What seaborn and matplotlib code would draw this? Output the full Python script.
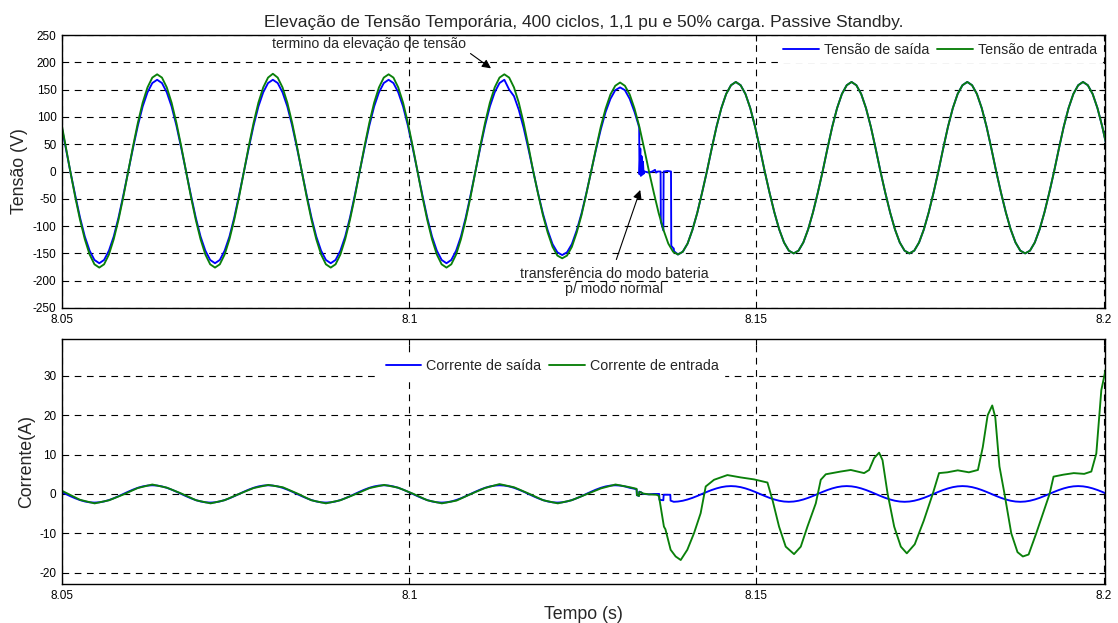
import numpy as np
import pandas as pd
import matplotlib
matplotlib.use("Agg")
import matplotlib.pyplot as plt
import seaborn as sns

# grade de amostragem (15 graus a 60 Hz), pico P1 em 8.0637 s
t_grid = 8.0637 + (np.arange(218) - 20) / 1440

# Tensao de entrada (V), n = 0..217
v_entrada = [
    96, 48, 0, -46, -88, -124, -152, -170, -176, -170, -152, -124, -88, -46, 0, 46, 89, 126, 154, 172,
    178, 172, 154, 126, 89, 46, 0, -46, -88, -124, -152, -170, -176, -170, -152, -124, -88, -46, 0, 46, 89, 126, 154, 172,
    179, 172, 154, 126, 89, 46, 0, -46, -88, -124, -152, -170, -176, -170, -152, -124, -88, -46, 0, 46, 89, 126, 154, 172,
    178, 172, 154, 126, 89, 46, 0, -46, -88, -124, -152, -170, -176, -170, -152, -124, -88, -46, 0, 46, 89, 126, 154, 172,
    178, 172, 154, 126, 89, 46, 0, -41, -80, -112, -138, -154, -159, -154, -138, -112, -80, -41, 0, 42, 82, 115, 141, 157,
    163, 157, 141, 115, 82, 42, 0, -39, -76, -107, -132, -147, -152, -147, -132, -107, -76, -39, 0, 42, 82, 116, 142, 158,
    164, 158, 142, 116, 82, 42, 0, -39, -75, -106, -130, -145, -150, -145, -130, -106, -75, -39, 0, 42, 82, 116, 142, 158,
    164, 158, 142, 116, 82, 42, 0, -39, -75, -106, -130, -145, -150, -145, -130, -106, -75, -39, 0, 42, 82, 116, 142, 158,
    164, 158, 142, 116, 82, 42, 0, -39, -75, -106, -130, -145, -150, -145, -130, -106, -75, -39, 0, 42, 82, 116, 142, 158,
    164, 158, 142, 116, 82, 42,
]

# Tensao de saida (V), n = 0..119 (antes da transferencia)
v_saida_a = [
    91, 45, 0, -43, -84, -119, -145, -162, -168, -162, -145, -119, -84, -43, 0, 43, 84, 119, 145, 162,
    168, 162, 145, 119, 84, 43, 0, -43, -84, -119, -145, -162, -168, -162, -145, -119, -84, -43, 0, 43, 84, 119, 145, 162,
    168, 162, 145, 119, 84, 43, 0, -43, -84, -119, -145, -162, -168, -162, -145, -119, -84, -43, 0, 43, 84, 119, 145, 162,
    168, 162, 145, 119, 84, 43, 0, -43, -84, -119, -145, -162, -168, -162, -145, -119, -84, -43, 0, 43, 84, 119, 145, 162,
    168, 150, 138, 113, 80, 41, 0, -40, -77, -108, -133, -148, -153, -148, -133, -108, -77, -40, 0, 40, 77, 109, 133, 149,
    154, 149, 133, 109,
]
# transferencia modo bateria -> modo normal
vs_glitch_t = [8.1330, 8.13312, 8.13316, 8.13328, 8.13336, 8.13346, 8.13356, 8.13366, 8.13376, 8.13388,
               8.1345, 8.1350, 8.1354, 8.13555, 8.1358, 8.1362, 8.13624, 8.1366, 8.13664, 8.1372,
               8.1377, 8.13774, 8.1380, 8.1381, 8.13814, 8.1385]
vs_glitch_v = [86, 80, -5, 42, -8, 28, -6, 18, -4, 0,
               -2, 0, 3, -2, 0, 0, -92, -108, 0, 1,
               0, -136, -140, -141, -146, -150]

# Corrente de saida (A), n = 0..118 e n = 128..217
i_saida_a = [
    0.6, 0.0, -0.57, -1.1, -1.56, -1.91, -2.13, -2.2,
    -2.13, -1.91, -1.56, -1.1, -0.57, 0.0, 0.57, 1.1, 1.56, 1.91, 2.13, 2.2, 2.13, 1.91, 1.56, 1.1, 0.57, 0.0, -0.57, -1.1, -1.56, -1.91, -2.13, -2.2,
    -2.13, -1.91, -1.56, -1.1, -0.57, 0.0, 0.57, 1.1, 1.56, 1.91, 2.13, 2.2, 2.13, 1.91, 1.56, 1.1, 0.57, 0.0, -0.57, -1.1, -1.56, -1.91, -2.13, -2.2,
    -2.13, -1.91, -1.56, -1.1, -0.57, 0.0, 0.57, 1.1, 1.56, 1.91, 2.13, 2.2, 2.13, 1.91, 1.56, 1.1, 0.57, 0.0, -0.57, -1.1, -1.56, -1.91, -2.13, -2.2,
    -2.13, -1.91, -1.56, -1.1, -0.57, 0.0, 0.57, 1.1, 1.56, 1.91, 2.13, 2.2, 2.13, 1.91, 1.56, 1.1, 0.57, 0.0, -0.57, -1.1, -1.56, -1.91, -2.13, -2.2,
    -2.13, -1.91, -1.56, -1.1, -0.57, 0.0, 0.57, 1.1, 1.56, 1.91, 2.13, 2.2, 2.13, 1.91, 1.56,
]
is_glitch_t = [8.1325, 8.13275, 8.13278, 8.1331, 8.13313, 8.1334, 8.1337, 8.1345, 8.1352, 8.1360,
               8.13604, 8.1366, 8.13664, 8.1376, 8.13764, 8.1381]
is_glitch_v = [1.3, 1.1, -0.3, -0.5, 0.6, 0.4, 0.0, -0.1, 0.0, 0.0,
               -1.5, -1.6, -0.2, -0.2, -1.7, -2.0]
i_saida_b = [
    -1.93, -1.73, -1.41, -1.0, -0.52, 0.0, 0.52, 1.0, 1.41, 1.73, 1.93, 2.0, 1.93, 1.73, 1.41, 1.0, 0.52, 0.0, -0.52, -1.0, -1.41, -1.73, -1.93, -2.0,
    -1.93, -1.73, -1.41, -1.0, -0.52, 0.0, 0.52, 1.0, 1.41, 1.73, 1.93, 2.0, 1.93, 1.73, 1.41, 1.0, 0.52, 0.0, -0.52, -1.0, -1.41, -1.73, -1.93, -2.0,
    -1.93, -1.73, -1.41, -1.0, -0.52, 0.0, 0.52, 1.0, 1.41, 1.73, 1.93, 2.0, 1.93, 1.73, 1.41, 1.0, 0.52, 0.0, -0.52, -1.0, -1.41, -1.73, -1.93, -2.0,
    -1.93, -1.73, -1.41, -1.0, -0.52, 0.0, 0.52, 1.0, 1.41, 1.73, 1.93, 2.0, 1.93, 1.73, 1.41, 1.0, 0.52, 0.0,
]

# Corrente de entrada (A)
i_entrada_t = [
    8.0500, 8.0526, 8.0547, 8.0568, 8.0589, 8.0609, 8.0630, 8.0651, 8.0672, 8.0693,
    8.0714, 8.0734, 8.0755, 8.0776, 8.0797, 8.0818, 8.0839, 8.0859, 8.0880, 8.0901,
    8.0922, 8.0943, 8.0964, 8.0984, 8.1005, 8.1026, 8.1047, 8.1068, 8.1089, 8.1109,
    8.1130, 8.1151, 8.1172, 8.1193, 8.1214, 8.1234, 8.1255, 8.1276, 8.1297, 8.1318,
    8.1325, 8.13275, 8.13280, 8.13310, 8.13315, 8.13340, 8.13370, 8.13450, 8.13560, 8.13596,
    8.13668, 8.13690, 8.13765, 8.13837, 8.13910, 8.14005, 8.14101, 8.14197, 8.14270, 8.14390,
    8.14582, 8.14774, 8.14966, 8.15159, 8.15231, 8.15326, 8.15422, 8.15542, 8.15639, 8.15735,
    8.15855, 8.15927, 8.15999, 8.16215, 8.16359, 8.16551, 8.16623, 8.16695, 8.16767, 8.16816,
    8.16888, 8.16984, 8.17080, 8.17166, 8.17280, 8.17410, 8.17539, 8.17630, 8.17750, 8.17900,
    8.18060, 8.18190, 8.18260, 8.18330, 8.18396, 8.18440, 8.18500, 8.18573, 8.18670, 8.18760,
    8.18837, 8.18920, 8.19030, 8.19222, 8.19279, 8.19420, 8.19570, 8.19720, 8.19823, 8.19895,
    8.19967, 8.20040,
]
i_entrada_v = [
    0.8, -1.5, -2.4, -1.6, -0.1, 1.5, 2.4, 1.6, 0.1, -1.6,
    -2.4, -1.6, 0.0, 1.5, 2.3, 1.7, 0.1, -1.6, -2.4, -1.6,
    -0.1, 1.5, 2.3, 1.6, 0.1, -1.6, -2.4, -1.7, 0.0, 1.5,
    2.5, 1.7, 0.1, -1.6, -2.4, -1.6, -0.1, 1.4, 2.4, 1.7,
    1.4, 1.3, -0.3, -0.5, 0.5, 0.4, 0.1, -0.1, -0.2, -0.5,
    -8.3, -9.0, -14.2, -15.9, -16.8, -14.2, -10.0, -4.9, 1.9, 3.6,
    4.8, 4.2, 3.7, 2.9, -1.5, -8.3, -13.4, -15.3, -13.4, -8.3,
    -2.4, 3.6, 5.0, 5.7, 6.1, 5.3, 6.1, 9.1, 10.5, 8.6,
    0.2, -8.3, -13.4, -15.1, -12.8, -6.8, 0.0, 5.3, 5.5, 6.0,
    5.5, 6.1, 11.9, 20.0, 22.5, 19.5, 7.0, 0.0, -10.0, -14.8,
    -15.9, -15.4, -10.0, 0.0, 4.4, 4.9, 5.3, 5.1, 5.7, 10.3,
    26.4, 32.5,
]

titulo = "Elevação de Tensão Temporária, 400 ciclos, 1,1 pu e 50% carga. Passive Standby."
x_ticks = [8.05, 8.1, 8.15, 8.2]
x_ticklabels = ["8.05", "8.1", "8.15", "8.2"]

# montar series
df_vin = pd.DataFrame({"t": t_grid, "v": v_entrada})
df_vout = pd.DataFrame({
    "t": np.concatenate([t_grid[:120], vs_glitch_t, t_grid[128:]]),
    "v": np.concatenate([v_saida_a, vs_glitch_v, v_entrada[128:]]),
})
df_iout = pd.DataFrame({
    "t": np.concatenate([t_grid[:119], is_glitch_t, t_grid[128:]]),
    "i": np.concatenate([i_saida_a, is_glitch_v, i_saida_b]),
})
df_iin = pd.DataFrame({"t": i_entrada_t, "i": i_entrada_v})

sns.set_theme(style="white")
plt.rcParams["font.family"] = ["Liberation Sans", "DejaVu Sans"]
plt.rcParams["axes.unicode_minus"] = False
plt.rcParams["xtick.direction"] = "in"
plt.rcParams["ytick.direction"] = "in"
plt.rcParams["axes.edgecolor"] = "black"
plt.rcParams["axes.linewidth"] = 1.0

AZUL = "#0000ff"
VERDE = "#0a800a"
LW = 1.35

fig = plt.figure(figsize=(11.18, 6.23), dpi=100)
ax1 = fig.add_axes([62 / 1118, 1 - 308 / 623, 1043 / 1118, 273 / 623])
ax2 = fig.add_axes([62 / 1118, 1 - 584 / 623, 1043 / 1118, 245 / 623])

sns.lineplot(data=df_vout, x="t", y="v", ax=ax1, color=AZUL, lw=LW, estimator=None, sort=False,
             label="Tensão de saída")
sns.lineplot(data=df_vin, x="t", y="v", ax=ax1, color=VERDE, lw=LW, estimator=None, sort=False,
             label="Tensão de entrada")
sns.lineplot(data=df_iout, x="t", y="i", ax=ax2, color=AZUL, lw=LW, estimator=None, sort=False,
             label="Corrente de saída")
sns.lineplot(data=df_iin, x="t", y="i", ax=ax2, color=VERDE, lw=LW, estimator=None, sort=False,
             label="Corrente de entrada")

for ax in (ax1, ax2):
    ax.set_xlim(8.05, 8.2002)
    ax.set_xticks(x_ticks)
    ax.set_xticklabels(x_ticklabels)
    ax.set_axisbelow(True)
    ax.grid(True, color="black", lw=0.8, linestyle=(0, (6, 5)))
    ax.tick_params(axis="both", which="both", labelsize=8.5, length=4, width=0.8, color="black",
                   top=True, right=True, pad=4, labelcolor="black")
    for s in ax.spines.values():
        s.set_color("black")
        s.set_linewidth(1.0)
    ax.set_xlabel("")

ax1.set_ylim(-250, 250)
ax1.set_yticks(range(-250, 251, 50))
ax2.set_ylim(-22.9, 39.4)
ax2.set_yticks([-20, -10, 0, 10, 20, 30])

ax1.set_title(titulo, fontsize=12.5, pad=6)
ax1.set_ylabel("Tensão (V)", fontsize=12.8)
ax1.yaxis.set_label_coords(-0.033, 0.5)
ax2.set_ylabel("Corrente(A)", fontsize=12.8)
ax2.yaxis.set_label_coords(-0.026, 0.5)
ax2.set_xlabel("Tempo (s)", fontsize=12.8, labelpad=3)

leg_kw = dict(ncol=2, fontsize=10.3, frameon=True, facecolor="white", edgecolor="white", framealpha=1,
              fancybox=False, handlelength=2.5, handletextpad=0.35, columnspacing=0.55, borderpad=0.35)
ax1.legend(loc="upper right", bbox_to_anchor=(1.0, 1.0), borderaxespad=0.2, **leg_kw)
ax2.legend(loc="center", bbox_to_anchor=(0.47, 0.89), **leg_kw)

ax1.text(8.0942, 233, "termino da elevação de tensão", fontsize=10.2, ha="center", va="center")
ax1.annotate("", xy=(8.1121, 186), xytext=(8.1085, 219),
             arrowprops=dict(arrowstyle="-|>", color="black", lw=0.8, mutation_scale=13))
ax1.text(8.1295, -201, "transferência do modo bateria\np/ modo normal", fontsize=10.2,
         ha="center", va="center", linespacing=1.1)
ax1.annotate("", xy=(8.1334, -29), xytext=(8.1297, -166),
             arrowprops=dict(arrowstyle="-|>", color="black", lw=0.8, mutation_scale=13))

fig.savefig("out.png", dpi=100)
